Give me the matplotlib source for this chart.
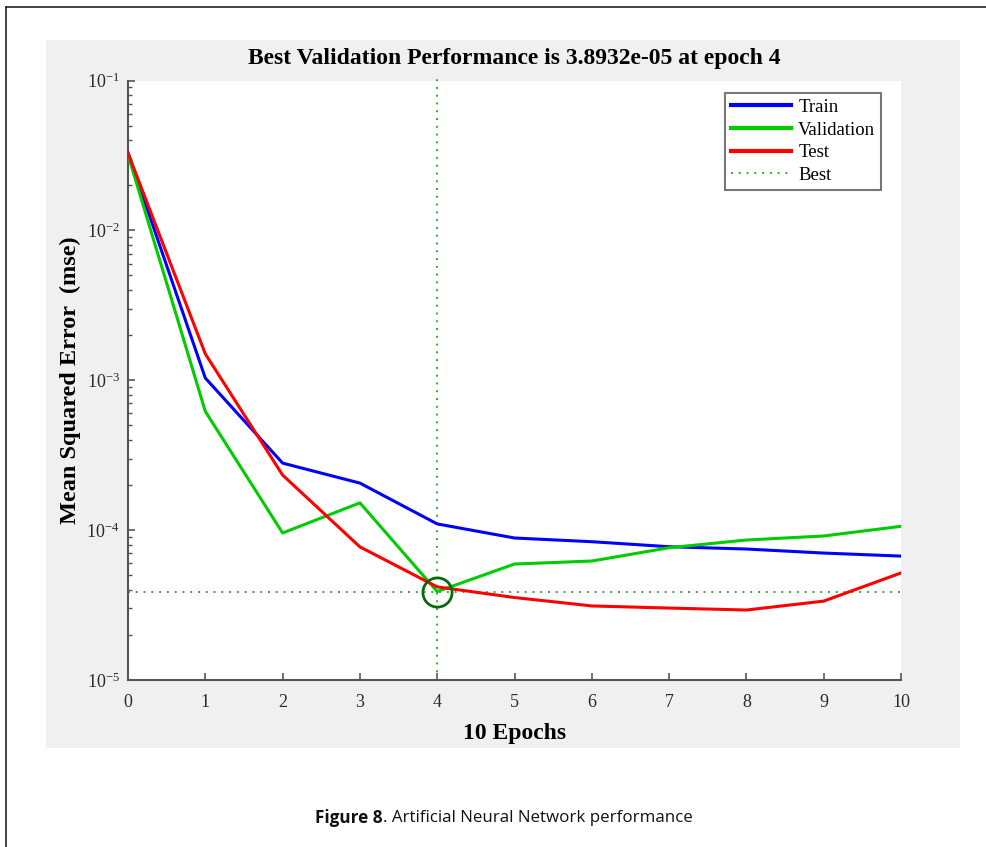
import numpy as np
import matplotlib
matplotlib.use("Agg")
import matplotlib.pyplot as plt
from matplotlib.patches import Rectangle
from matplotlib.lines import Line2D
from matplotlib.ticker import LogLocator, NullFormatter, FuncFormatter

# -------------------------------------------------------------------
# data
# -------------------------------------------------------------------
epochs = [0, 1, 2, 3, 4, 5, 6, 7, 8, 9, 10]
train_mse = [0.0328, 1.035e-3, 2.80e-4, 2.06e-4, 1.10e-4, 8.86e-5, 8.37e-5, 7.75e-5, 7.48e-5, 7.03e-5, 6.71e-5]
val_mse = [0.0319, 6.2e-4, 9.57e-5, 1.52e-4, 3.8932e-5, 5.94e-5, 6.22e-5, 7.63e-5, 8.59e-5, 9.14e-5, 1.06e-4]
test_mse = [0.0328, 1.50e-3, 2.33e-4, 7.73e-5, 4.18e-5, 3.55e-5, 3.12e-5, 3.02e-5, 2.93e-5, 3.36e-5, 5.18e-5]
best_epoch = 4
best_val = 3.8932e-05

W, H = 986, 847
plt.rcParams['font.family'] = ['Liberation Serif', 'DejaVu Serif']
plt.rcParams['mathtext.default'] = 'regular'

fig = plt.figure(figsize=(W / 100, H / 100), dpi=100)
fig.patch.set_facecolor('white')

def px(x, y):
    return x / W, 1 - y / H

# outer frame + grey panel
fig.add_artist(Line2D([6 / W, 6 / W], [0, 1 - 7 / H], color='#222222', lw=1.2))
fig.add_artist(Line2D([6 / W, 1], [1 - 7 / H, 1 - 7 / H], color='#222222', lw=1.2))
fig.add_artist(Rectangle(px(46, 748), (960 - 46) / W, (748 - 40) / H,
                         facecolor='#f0f0f0', edgecolor='none', zorder=-1))

ax_l, ax_t = px(128, 80.5)
ax_r, ax_b = px(901, 680)
ax = fig.add_axes([ax_l, ax_b, ax_r - ax_l, ax_t - ax_b])
ax.set_facecolor('white')

ax.plot(epochs, train_mse, color='#0000ff', lw=2.2, label='Train', zorder=3)
ax.plot(epochs, val_mse, color='#00cc00', lw=2.2, label='Validation', zorder=3)
ax.plot(epochs, test_mse, color='#ff0000', lw=2.2, label='Test', zorder=3)
ax.axhline(best_val, color='#33aa33', lw=1.4, ls=(0, (1, 3)), label='Best', zorder=2)
ax.axvline(best_epoch, color='#33aa33', lw=1.4, ls=(0, (1, 3)), ymax=1.01, clip_on=False, zorder=2)
ax.plot([best_epoch], [best_val], marker='o', ms=21, mfc='none', mec='#0a6a0a', mew=2, zorder=4)

ax.set_yscale('log')
ax.set_xlim(0, 10)
ax.set_ylim(1e-5, 1e-1)
ax.set_xticks(epochs)
ax.yaxis.set_major_locator(LogLocator(base=10, numticks=10))
ax.yaxis.set_major_formatter(FuncFormatter(lambda v, p: '$10^{-%d}$' % round(-np.log10(v))))
ax.yaxis.set_minor_locator(LogLocator(base=10, subs=np.arange(2, 10), numticks=20))
ax.yaxis.set_minor_formatter(NullFormatter())

for s in ['top', 'right']:
    ax.spines[s].set_visible(False)
for s in ['left', 'bottom']:
    ax.spines[s].set_color('#555555')
    ax.spines[s].set_linewidth(1.5)
ax.tick_params(which='both', direction='in', colors='#555555', labelcolor='#2a2a2a', labelsize=13)
ax.tick_params(which='major', length=5, width=1.2)
ax.tick_params(which='minor', length=3, width=1)
ax.tick_params(axis='x', pad=10)
ax.tick_params(axis='y', pad=6)

ax.set_title('Best Validation Performance is 3.8932e-05 at epoch 4',
             fontsize=17, fontweight='bold', pad=12)
ax.set_xlabel('10 Epochs', fontsize=17, fontweight='bold', labelpad=9)
ax.set_ylabel('Mean Squared Error  (mse)', fontsize=17.5, fontweight='bold', labelpad=4)

leg = ax.legend(loc='upper right', bbox_to_anchor=((881 - 128) / 773, (680 - 93) / 599.5),
                fontsize=13.5, frameon=True, fancybox=False, handlelength=3.2,
                handletextpad=0.4, labelspacing=0.3, borderpad=0.3, borderaxespad=0)
leg.get_frame().set_edgecolor('#555555')
leg.get_frame().set_linewidth(1.5)
for line in leg.get_lines()[:3]:
    line.set_linewidth(3)

# caption
cx, cy = px(383, 818)
fig.text(cx, cy, 'Figure 8', ha='right', va='center', fontsize=12.3,
         fontweight='bold', family='Open Sans', color='#111111')
fig.text(cx, cy, '. Artificial Neural Network performance', ha='left', va='center',
         fontsize=12.2, family='Open Sans', color='#111111')

fig.savefig('out.png', dpi=100)
